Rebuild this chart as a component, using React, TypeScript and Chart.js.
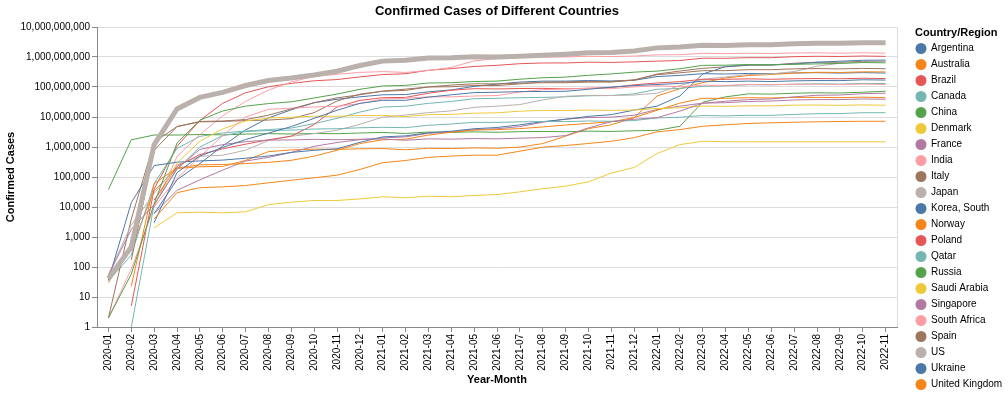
import React, { useEffect, useRef } from 'react';
import { Chart, registerables } from 'chart.js';

Chart.register(...registerables);

const months = [
  '2020-01', '2020-02', '2020-03', '2020-04', '2020-05', '2020-06', '2020-07', '2020-08', '2020-09', '2020-10', '2020-11', '2020-12',
  '2021-01', '2021-02', '2021-03', '2021-04', '2021-05', '2021-06', '2021-07', '2021-08', '2021-09', '2021-10', '2021-11', '2021-12',
  '2022-01', '2022-02', '2022-03', '2022-04', '2022-05', '2022-06', '2022-07', '2022-08', '2022-09', '2022-10', '2022-11',
];

const countries = [
  'Argentina', 'Australia', 'Brazil', 'Canada', 'China', 'Denmark', 'France', 'India', 'Italy', 'Japan', 'Korea, South',
  'Norway', 'Poland', 'Qatar', 'Russia', 'Saudi Arabia', 'Singapore', 'South Africa', 'Spain', 'US', 'Ukraine', 'United Kingdom',
];

const palette = ['#4c78a8', '#f58518', '#e45756', '#72b7b2', '#54a24b', '#eeca3b', '#b279a2', '#ff9da6', '#9d755d', '#bab0ac'];

const yTickValues = [1, 10, 100, 1000, 10000, 100000, 1000000, 10000000, 100000000, 1000000000, 10000000000];

const argentina = [null, null, 6000, 81000, 280000, 1080000, 3700000, 9300000, 17400000, 29800000, 39000000, 47000000, 55000000, 56000000, 69000000, 80000000, 105000000, 125000000, 146000000, 157000000, 157000000, 164000000, 159000000, 167000000, 223000000, 244000000, 278000000, 271000000, 283000000, 278000000, 294000000, 300000000, 291000000, 301000000, 292000000];
const australia = [30, 435, 35000, 192000, 220000, 225000, 357000, 700000, 800000, 850000, 834000, 870000, 887000, 809000, 905000, 885000, 930000, 909000, 992000, 1300000, 2300000, 4100000, 5500000, 9500000, 50000000, 88000000, 140000000, 200000000, 240000000, 262000000, 290000000, 310000000, 305000000, 320000000, 318000000];
const brazil = [null, 5, 40000, 1050000, 7700000, 28500000, 64000000, 102000000, 132000000, 161000000, 177000000, 217000000, 260000000, 277000000, 360000000, 411000000, 484000000, 528000000, 598000000, 632000000, 633000000, 670000000, 660000000, 688000000, 729000000, 762000000, 911000000, 906000000, 952000000, 948000000, 1026000000, 1057000000, 1038000000, 1079000000, 1050000000];
const canada = [34, 250, 60000, 900000, 2260000, 2940000, 3410000, 3800000, 4260000, 6000000, 9000000, 14600000, 21400000, 23000000, 28500000, 33000000, 40600000, 42000000, 44000000, 45000000, 47000000, 51000000, 52000000, 59000000, 84000000, 90000000, 105000000, 110000000, 120000000, 118000000, 124000000, 127000000, 125000000, 132000000, 131000000];
const china = [38000, 1740000, 2510000, 2500000, 2610000, 2540000, 2690000, 2780000, 2710000, 2820000, 2770000, 2930000, 3050000, 2830000, 3150000, 3070000, 3190000, 3100000, 3240000, 3300000, 3230000, 3370000, 3300000, 3470000, 3600000, 4900000, 31000000, 47000000, 59000000, 58000000, 62000000, 64000000, 63000000, 67000000, 72000000];
const denmark = [null, null, 2000, 6400, 6700, 6400, 6900, 12000, 14500, 16500, 16500, 18600, 21900, 20300, 22900, 21900, 24200, 26000, 32000, 40600, 49500, 69000, 135000, 208000, 604000, 1200000, 1550000, 1500000, 1490000, 1490000, 1490000, 1490000, 1490000, 1490000, 1490000];
const france = [null, null, 6000, 36000, 80000, 170000, 340000, 450000, 660000, 1050000, 1410000, 1760000, 2000000, 2180000, 2850000, 3200000, 3800000, 4050000, 4800000, 6700000, 8500000, 9600000, 9900000, 11500000, 17700000, 23000000, 29000000, 30000000, 33000000, 34000000, 37000000, 38000000, 38000000, 40000000, 39000000];
const india = [2, 84, 10000, 480000, 2600000, 11000000, 33000000, 79000000, 147000000, 226000000, 265000000, 307000000, 326000000, 306000000, 356000000, 450000000, 744000000, 882000000, 961000000, 998000000, 999000000, 1054000000, 1035000000, 1076000000, 1178000000, 1190000000, 1333000000, 1292000000, 1338000000, 1302000000, 1364000000, 1376000000, 1338000000, 1384000000, 1340000000];
const italy = [2, 3967, 1450000, 4800000, 6900000, 7100000, 7600000, 7900000, 8800000, 14000000, 34000000, 58000000, 72000000, 77000000, 101000000, 116000000, 128000000, 127000000, 134000000, 139000000, 139000000, 146000000, 146000000, 169000000, 270000000, 340000000, 420000000, 470000000, 530000000, 540000000, 620000000, 670000000, 665000000, 715000000, 720000000];
const japan = [56, 2500, 28000, 250000, 490000, 530000, 780000, 1640000, 2280000, 2800000, 3600000, 5700000, 9900000, 11600000, 14000000, 16000000, 21000000, 23000000, 26000000, 37000000, 49000000, 53000000, 52000000, 54000000, 62000000, 112000000, 180000000, 216000000, 260000000, 273000000, 326000000, 496000000, 615000000, 679000000, 696000000];
const korea = [36, 14000, 240000, 312000, 344000, 366000, 422000, 500000, 660000, 775000, 870000, 1430000, 2170000, 2350000, 2980000, 3360000, 4060000, 4470000, 5460000, 7000000, 8400000, 10500000, 12000000, 17000000, 23000000, 50000000, 270000000, 480000000, 549000000, 546000000, 583000000, 667000000, 723000000, 778000000, 789000000];
const norway = [null, 23, 60000, 200000, 255000, 261000, 280000, 307000, 360000, 496000, 780000, 1300000, 1740000, 1820000, 2500000, 3100000, 3660000, 3800000, 4100000, 4650000, 5400000, 6100000, 6900000, 9600000, 16700000, 29000000, 42000000, 42000000, 44000000, 43000000, 45000000, 45000000, 44000000, 46000000, 44000000];
const poland = [null, null, 17000, 225000, 560000, 870000, 1240000, 1740000, 2300000, 5600000, 21600000, 35700000, 44000000, 45000000, 62000000, 78000000, 88000000, 86000000, 89000000, 90000000, 87000000, 91000000, 96000000, 118000000, 136000000, 151000000, 181000000, 180000000, 187000000, 181000000, 188000000, 191000000, 188000000, 196000000, 191000000];
const qatar = [null, 1, 12000, 180000, 1000000, 2400000, 3260000, 3560000, 3650000, 3980000, 4070000, 4370000, 4530000, 4400000, 5300000, 5850000, 6650000, 6600000, 6900000, 7070000, 7000000, 7370000, 7200000, 7600000, 9300000, 9800000, 11200000, 10900000, 11400000, 11300000, 12200000, 12900000, 13000000, 13900000, 13900000];
const russia = [2, 58, 13000, 1350000, 7800000, 15900000, 23000000, 28000000, 32000000, 43000000, 58000000, 84000000, 108000000, 113000000, 136000000, 139000000, 152000000, 157000000, 182000000, 203000000, 214000000, 245000000, 273000000, 313000000, 338000000, 406000000, 527000000, 534000000, 561000000, 548000000, 570000000, 589000000, 612000000, 654000000, 639000000];
const saudiArabia = [null, null, 11000, 290000, 1550000, 4000000, 7400000, 9300000, 9800000, 10600000, 10600000, 11200000, 11300000, 10400000, 11900000, 12200000, 13400000, 13800000, 15600000, 16600000, 16400000, 17000000, 16500000, 17100000, 19200000, 20300000, 23200000, 22600000, 23600000, 23500000, 24900000, 25100000, 24500000, 25300000, 24700000];
const singapore = [53, 1800, 12000, 190000, 830000, 1200000, 1500000, 1700000, 1720000, 1800000, 1750000, 1810000, 1840000, 1680000, 1870000, 1830000, 1910000, 1870000, 1970000, 2060000, 2400000, 4340000, 7000000, 8400000, 9500000, 15700000, 28800000, 33600000, 38000000, 40000000, 47000000, 53000000, 54000000, 60000000, 62000000];
const southAfrica = [null, null, 10000, 90000, 470000, 2400000, 10000000, 18000000, 19600000, 21700000, 22600000, 28000000, 40000000, 42000000, 47000000, 47000000, 50000000, 52000000, 68000000, 82000000, 86000000, 90000000, 88000000, 101000000, 110000000, 102000000, 115000000, 113000000, 120000000, 119000000, 124000000, 124000000, 121000000, 125000000, 121000000];
const spain = [null, 170, 780000, 4800000, 7100000, 7350000, 8200000, 11500000, 18600000, 30000000, 43500000, 55000000, 73000000, 85000000, 100000000, 102000000, 112000000, 112000000, 127000000, 146000000, 148000000, 154000000, 152000000, 174000000, 257000000, 297000000, 350000000, 351000000, 378000000, 378000000, 403000000, 411000000, 401000000, 417000000, 407000000];
const us = [41, 470, 1200000, 18600000, 45000000, 66000000, 112000000, 164000000, 198000000, 251000000, 336000000, 521000000, 729000000, 773000000, 918000000, 945000000, 1020000000, 1005000000, 1060000000, 1153000000, 1245000000, 1386000000, 1416000000, 1581000000, 2015000000, 2170000000, 2470000000, 2421000000, 2567000000, 2577000000, 2771000000, 2883000000, 2865000000, 3007000000, 2961000000];
const ukraine = [null, null, 3000, 140000, 500000, 970000, 1770000, 2900000, 4800000, 9000000, 16800000, 28500000, 36000000, 36000000, 46000000, 55000000, 65000000, 67000000, 70000000, 71000000, 72000000, 84000000, 99000000, 112000000, 121000000, 132000000, 156000000, 151000000, 157000000, 152000000, 160000000, 164000000, 163000000, 174000000, 170000000];
const unitedKingdom = [null, null, 4000, 30000, 44000, 47000, 52000, 64000, 78000, 94000, 115000, 178000, 300000, 355000, 450000, 500000, 533000, 533000, 726000, 986000, 1120000, 1310000, 1550000, 2050000, 3200000, 3800000, 4900000, 5500000, 6100000, 6400000, 6700000, 6900000, 7100000, 7200000, 7200000];

const seriesValues = [
  argentina, australia, brazil, canada, china, denmark, france, india, italy, japan, korea,
  norway, poland, qatar, russia, saudiArabia, singapore, southAfrica, spain, us, ukraine, unitedKingdom,
];

const FONT = '"Liberation Sans", Arial, Helvetica, sans-serif';

export default function App() {
  const ref = useRef<HTMLCanvasElement>(null);

  useEffect(() => {
    document.body.style.margin = '0';
    const canvas = ref.current;
    if (!canvas) return;
    Chart.defaults.font.family = FONT;
    Chart.defaults.color = '#000';

    const overlay = {
      id: 'overlay',
      beforeDatasetsDraw(chart: any) {
        const { ctx, chartArea } = chart;
        ctx.save();
        ctx.strokeStyle = '#ddd';
        ctx.lineWidth = 1;
        ctx.beginPath();
        ctx.moveTo(Math.round(chartArea.right) + 0.5, chartArea.top);
        ctx.lineTo(Math.round(chartArea.right) + 0.5, chartArea.bottom);
        ctx.stroke();
        ctx.restore();
      },
      afterDraw(chart: any) {
        const { ctx, chartArea } = chart;
        ctx.save();
        ctx.fillStyle = '#000';
        ctx.font = `bold 13px ${FONT}`;
        ctx.textAlign = 'center';
        ctx.textBaseline = 'middle';
        ctx.fillText('Confirmed Cases of Different Countries', (chartArea.left + chartArea.right) / 2, 11);

        const lx = 915;
        ctx.textAlign = 'left';
        ctx.font = `bold 11px ${FONT}`;
        ctx.fillText('Country/Region', lx, 33);
        ctx.font = `10px ${FONT}`;
        countries.forEach((name, i) => {
          const cy = 48.5 + i * 16;
          ctx.beginPath();
          ctx.arc(lx + 6, cy, 5.5, 0, Math.PI * 2);
          ctx.fillStyle = palette[i % palette.length];
          ctx.fill();
          ctx.fillStyle = '#000';
          ctx.fillText(name, lx + 16, cy);
        });
        ctx.restore();
      },
    };

    const chart = new Chart(canvas, {
      type: 'line',
      data: {
        labels: months,
        datasets: countries.map((name, i) => ({
          label: name,
          data: seriesValues[i],
          borderColor: palette[i % palette.length],
          backgroundColor: palette[i % palette.length],
          borderWidth: name === 'US' ? 5 : 1,
          pointRadius: 0,
          pointHoverRadius: 0,
          tension: 0,
          fill: false,
          spanGaps: false,
          order: countries.length - i,
        })),
      },
      options: {
        responsive: false,
        maintainAspectRatio: false,
        animation: false,
        layout: { padding: { top: 27, right: 111, bottom: 0, left: 0 } },
        plugins: {
          legend: { display: false },
          title: { display: false },
          tooltip: { enabled: false },
        },
        scales: {
          x: {
            type: 'category',
            offset: true,
            grid: { display: true, drawOnChartArea: false, drawTicks: true, tickLength: 5, tickColor: '#888' },
            border: { color: '#888', width: 1 },
            ticks: { autoSkip: false, minRotation: 90, maxRotation: 90, padding: 2, font: { size: 10 }, color: '#000' },
            title: { display: true, text: 'Year-Month', font: { size: 11, weight: 'bold' }, color: '#000', padding: { top: 4, bottom: 10 } },
            afterFit: (scale: any) => { scale.height = 70; },
          },
          y: {
            type: 'logarithmic',
            min: 1,
            max: 10000000000,
            grid: { color: '#ddd', tickColor: '#888', tickLength: 5, drawTicks: true },
            border: { color: '#888', width: 1 },
            ticks: {
              autoSkip: false,
              padding: 2,
              font: { size: 10 },
              color: '#000',
              callback: (v: any) => Number(v).toLocaleString('en-US'),
            },
            afterBuildTicks: (scale: any) => {
              scale.ticks = yTickValues.map((v) => ({ value: v }));
            },
            title: { display: true, text: 'Confirmed Cases', font: { size: 11, weight: 'bold' }, color: '#000', padding: { top: 4, bottom: 4 } },
            afterFit: (scale: any) => { scale.width = 97; },
          },
        },
      },
      plugins: [overlay],
    } as any);

    return () => chart.destroy();
  }, []);

  return (
    <div style={{ width: 1008, height: 397 }}>
      <canvas ref={ref} width={1008} height={397} style={{ display: 'block' }} />
    </div>
  );
}
